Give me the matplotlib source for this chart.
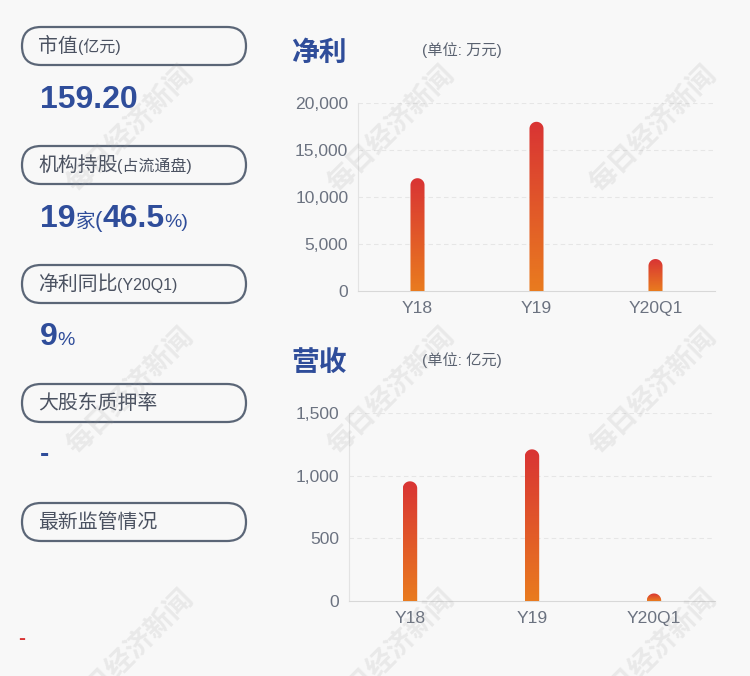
import numpy as np
import matplotlib
matplotlib.use("Agg")
import matplotlib.pyplot as plt
from matplotlib.patches import FancyBboxPatch, Polygon
from matplotlib.colors import LinearSegmentedColormap

plt.rcParams['font.family'] = ['Liberation Sans', 'Noto Sans CJK SC', 'DejaVu Sans']

# data
periods = ["Y18", "Y19", "Y20Q1"]
profit = [12000, 18000, 3400]        # 万元
revenue = [955, 1210, 60]            # 亿元
profit_ticks = [0, 5000, 10000, 15000, 20000]
revenue_ticks = [0, 500, 1000, 1500]

labels = [("市值", "(亿元)"), ("机构持股", "(占流通盘)"), ("净利同比", "(Y20Q1)"),
          ("大股东质押率", ""), ("最新监管情况", "")]

W, H = 750, 676
BG = "#f8f8f8"
BLUE = "#2f4d9a"
GRAY = "#5b6677"
TICK = "#6b7280"
grad = LinearSegmentedColormap.from_list("g", ["#e97b1f", "#d93434"])

fig = plt.figure(figsize=(W / 100, H / 100), dpi=100, facecolor=BG)


def bar_chart(ax, values, ticks, height_px):
    ymax = ticks[-1]
    xs = np.arange(len(values))
    bars = ax.bar(xs, values, width=0.118, color="none", edgecolor="none")
    ry = 7 * ymax / height_px
    for b, v in zip(bars, values):
        x0, w = b.get_x(), b.get_width()
        xc, rx = x0 + w / 2, w / 2
        t = np.linspace(0, np.pi, 40)
        top = v - ry if v > ry else v * 0.3
        pts = [(x0, -ry), (x0 + w, -ry), (x0 + w, top)]
        pts += list(zip(xc + rx * np.cos(t), top + ry * np.sin(t)))
        pts += [(x0, top)]
        clip = Polygon(pts, closed=True, transform=ax.transData, facecolor="none", edgecolor="none")
        ax.add_patch(clip)
        im = ax.imshow(np.linspace(0, 1, 100).reshape(-1, 1), cmap=grad, origin="lower",
                       extent=[x0, x0 + w, 0, top + ry], aspect="auto", zorder=3)
        im.set_clip_path(clip)
    ax.set_xlim(-0.5, len(values) - 0.5)
    ax.set_ylim(0, ymax)
    ax.set_yticks(ticks)
    ax.set_yticklabels([f"{t:,}" for t in ticks])
    ax.set_xticks(xs)
    ax.set_xticklabels(periods)
    ax.set_facecolor("none")
    for s in ["top", "right"]:
        ax.spines[s].set_visible(False)
    ax.spines["left"].set_color("#e3e3e3")
    ax.spines["bottom"].set_color("#d8d8d8")
    ax.tick_params(length=0, labelsize=12.6, labelcolor=TICK, pad=7)
    for t in ticks[1:]:
        ax.axhline(t, color="#e6e6e6", lw=0.8, ls=(0, (4, 3)), zorder=1)


ax1 = fig.add_axes([358 / W, 1 - 291 / H, 357 / W, 188 / H])
bar_chart(ax1, profit, profit_ticks, 188)
ax2 = fig.add_axes([349 / W, 1 - 601 / H, 366 / W, 188 / H])
bar_chart(ax2, revenue, revenue_ticks, 188)

# overlay in pixel coordinates
ov = fig.add_axes([0, 0, 1, 1], facecolor="none")
ov.set_xlim(0, W)
ov.set_ylim(H, 0)
ov.axis("off")

fig.canvas.draw()
rend = fig.canvas.get_renderer()


def run_text(x, y, parts):
    # parts: (text, size, weight, color)
    for s, size, weight, color in parts:
        t = ov.text(x, y, s, fontsize=size, fontweight=weight, color=color, ha="left", va="baseline")
        bb = t.get_window_extent(rend)
        x += bb.width


ov.text(291, 61, "净利", fontsize=20, fontweight="heavy", color=BLUE)
ov.text(422, 55, "(单位: 万元)", fontsize=11, color="#5a6270")
ov.text(291, 371, "营收", fontsize=20, fontweight="heavy", color=BLUE)
ov.text(422, 365, "(单位: 亿元)", fontsize=11, color="#5a6270")

for i, (main, sub) in enumerate(labels):
    y0 = 27 + i * 119
    ov.add_patch(FancyBboxPatch((22, y0), 224, 38, boxstyle="round,pad=0,rounding_size=19",
                                facecolor="none", edgecolor=GRAY, lw=1.6))
    run_text(38, y0 + 25, [(main, 14.3, "normal", "#4b5261"), (sub, 11.5, "normal", "#4b5261")])

run_text(40, 108, [("159.20", 23, "bold", BLUE)])
run_text(40, 227, [("19", 23, "bold", BLUE), ("家", 14, "normal", BLUE), ("(", 16, "normal", BLUE),
                   ("46.5", 23, "bold", BLUE), ("%)", 14, "normal", BLUE)])
run_text(40, 345, [("9", 23, "bold", BLUE), ("%", 14, "normal", BLUE)])
ov.text(40, 462, "-", fontsize=20, fontweight="bold", color=BLUE)
ov.text(18, 644, "-", fontsize=15, fontweight="bold", color="#d93434")

# watermark grid (partly cut off at the bottom edge, as in the reference)
for cx in [132, 393, 655]:
    for cy in [131, 393, 655]:
        ov.text(cx, cy, "每日经济新闻", fontsize=20, fontweight="bold", color="#9a9a9a", alpha=0.16,
                rotation=45, ha="center", va="center", rotation_mode="anchor", zorder=10)

fig.savefig("out.png", dpi=100, facecolor=BG)
